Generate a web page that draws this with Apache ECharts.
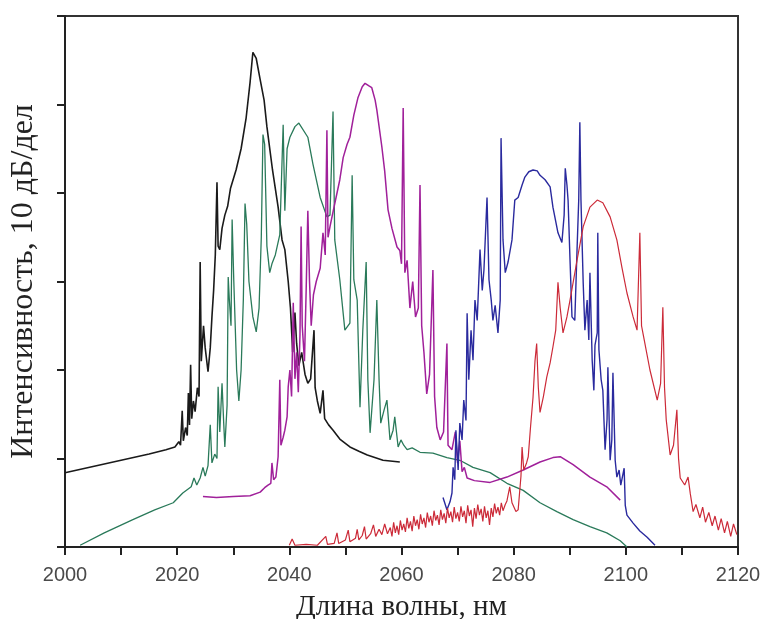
<!DOCTYPE html>
<html>
<head>
<meta charset="utf-8">
<script src="https://cdn.jsdelivr.net/npm/echarts@6/dist/echarts.min.js"></script>
<style>
html,body{margin:0;padding:0;background:#fff;}
#chart{width:762px;height:619px;}
</style>
</head>
<body>
<div id="chart"></div>
<script>
// Wavelength (nm) vs intensity (dB, 10 dB per division)
const xTickLabels = ['2000', '2020', '2040', '2060', '2080', '2100', '2120'];
const xTitle = 'Длина волны, нм';
const yTitle = 'Интенсивность, 10 дБ/дел';

const blackSpectrum = [
  [2000, 8.4], [2005, 9.1], [2010, 9.8], [2015, 10.5], [2018, 11.0], [2019.6, 11.3], [2020.3, 11.9], [2020.6, 11.5],
  [2020.9, 15.4], [2021.1, 12.0], [2021.5, 13.5], [2021.8, 12.6], [2022.0, 17.4], [2022.2, 13.8], [2022.4, 20.6],
  [2022.6, 14.5], [2022.9, 16.5], [2023.2, 15.3], [2023.6, 18.0], [2023.9, 17.0], [2024.1, 32.2], [2024.3, 21.0],
  [2024.7, 25.0], [2025.0, 22.5], [2025.5, 19.8], [2025.9, 22.5], [2026.2, 26.0], [2026.5, 29.0], [2026.8, 33.0],
  [2027.1, 41.2], [2027.3, 34.0], [2027.6, 33.6], [2028.0, 36.0], [2028.5, 37.5], [2029.0, 38.5], [2029.5, 40.5],
  [2030.5, 42.6], [2031.4, 45.0], [2032.3, 48.5], [2033.0, 52.5], [2033.5, 55.9], [2034.1, 55.2], [2034.8, 52.8],
  [2035.5, 50.5], [2036.0, 47.5], [2037.0, 42.6], [2038.0, 38.4], [2038.7, 34.7], [2039.2, 33.6], [2039.8, 30.0],
  [2040.2, 27.0], [2040.6, 22.0], [2041.0, 26.5], [2041.3, 23.0], [2041.7, 20.5], [2042.2, 22.0], [2042.8, 19.5],
  [2043.3, 18.5], [2043.8, 19.0], [2044.4, 24.5], [2044.6, 18.0], [2045.0, 16.5], [2045.5, 15.1], [2046.0, 17.7],
  [2046.3, 14.5], [2047.0, 13.8], [2047.8, 13.2], [2049.0, 12.2], [2050.8, 11.3], [2052.5, 10.8], [2053.9, 10.4],
  [2056.7, 9.8], [2059.7, 9.6]
];

const greenSpectrum = [
  [2002.7, 0.2], [2007, 1.6], [2012.1, 3.1], [2016, 4.2], [2019.3, 5.0], [2021, 6.1], [2022.5, 6.8], [2023, 7.8],
  [2023.5, 7.0], [2024.1, 7.8], [2024.6, 9.0], [2025, 8.0], [2025.5, 9.2], [2025.9, 13.8], [2026.2, 9.5],
  [2026.7, 10.5], [2027.1, 10.0], [2027.3, 18.1], [2027.6, 13.0], [2028.0, 18.5], [2028.3, 14.0], [2028.5, 11.3],
  [2028.9, 16.0], [2029.1, 30.5], [2029.3, 28.0], [2029.6, 25.0], [2029.8, 37.0], [2030.1, 30.0], [2030.6, 20.0],
  [2031.0, 16.5], [2031.4, 20.0], [2031.8, 28.0], [2032.1, 38.8], [2032.4, 36.5], [2032.8, 30.0], [2033.5, 26.0],
  [2034.1, 24.3], [2034.6, 27.0], [2035.0, 35.0], [2035.3, 46.6], [2035.6, 45.5], [2036.0, 34.0], [2036.5, 31.0],
  [2036.9, 32.0], [2037.5, 33.0], [2038.3, 35.3], [2038.9, 47.7], [2039.2, 38.0], [2039.6, 45.0], [2040.1, 46.3],
  [2041.0, 47.5], [2041.7, 47.9], [2043.3, 46.3], [2044.2, 43.3], [2045.5, 39.5], [2046.7, 37.3], [2047.25, 37.5],
  [2047.79, 49.2], [2048.1, 34.7], [2049.0, 30.2], [2049.9, 24.5], [2050.8, 25.3], [2051.2, 42.0], [2051.5, 30.2],
  [2052.1, 27.9], [2052.6, 15.8], [2053.1, 24.5], [2053.7, 32.2], [2054.0, 18.9], [2054.4, 12.9], [2055.1, 18.9],
  [2055.6, 27.9], [2056.0, 18.9], [2056.3, 14.0], [2056.9, 15.5], [2057.4, 16.6], [2057.95, 12.1], [2058.5, 13.2],
  [2058.8, 14.7], [2059.4, 11.3], [2059.9, 12.1], [2060.4, 11.5], [2061.0, 11.0], [2061.9, 11.2], [2063.3, 10.7],
  [2065.6, 10.6], [2068.1, 10.1], [2070.4, 9.8], [2072.75, 9.0], [2075.8, 8.4], [2078.8, 7.2], [2081.7, 6.4],
  [2084.7, 5.0], [2087.7, 4.0], [2090.6, 3.1], [2093.6, 2.3], [2096.6, 1.6], [2099.0, 0.7], [2100.2, 0.0]
];

const purpleSpectrum = [
  [2024.6, 5.7], [2027, 5.6], [2030, 5.7], [2033, 5.8], [2034.8, 6.2], [2035.6, 6.7], [2036.2, 7.0], [2036.7, 7.2],
  [2036.9, 9.5], [2037.2, 7.6], [2037.6, 7.9], [2038.0, 10.2], [2038.3, 18.9], [2038.5, 11.5], [2038.9, 12.4],
  [2039.2, 13.2], [2039.6, 14.7], [2039.8, 18.1], [2040.1, 20.0], [2040.4, 17.0], [2040.7, 27.6], [2041.0, 19.0],
  [2041.3, 22.0], [2041.6, 17.5], [2041.9, 24.0], [2042.1, 36.2], [2042.3, 25.0], [2042.7, 21.0], [2043.0, 29.0],
  [2043.3, 38.0], [2043.6, 30.0], [2043.9, 25.0], [2044.3, 28.5], [2044.8, 30.0], [2045.5, 31.5], [2046.0, 35.5],
  [2046.4, 33.0], [2046.7, 47.1], [2046.9, 35.0], [2047.25, 36.2], [2048.0, 38.5], [2049.0, 41.5], [2049.6, 44.0],
  [2050.3, 45.5], [2050.8, 46.3], [2051.5, 48.8], [2052.25, 50.8], [2053.0, 52.0], [2053.5, 52.4], [2054.2, 52.1],
  [2054.7, 51.9], [2055.3, 50.5], [2055.6, 49.4], [2056.5, 45.2], [2057.0, 42.5], [2057.6, 38.1], [2058.3, 36.0],
  [2059.2, 33.9], [2059.7, 33.5], [2060.0, 32.0], [2060.3, 49.6], [2060.6, 31.0], [2061.0, 32.4], [2061.5, 27.0],
  [2062.0, 30.0], [2062.5, 26.0], [2063.0, 27.0], [2063.3, 40.9], [2063.6, 25.0], [2064.0, 22.0], [2064.5, 17.3],
  [2065.0, 19.5], [2065.6, 31.3], [2065.9, 17.0], [2066.3, 13.5], [2066.9, 12.1], [2067.5, 13.0], [2068.1, 23.0],
  [2068.3, 11.5], [2069.0, 11.0], [2069.6, 13.0], [2070.0, 9.5], [2070.4, 12.0], [2070.8, 8.5], [2071.2, 9.0],
  [2071.7, 7.8], [2073.0, 7.5], [2075.8, 7.3], [2078.8, 7.9], [2081.7, 8.7], [2084.7, 9.6], [2087.0, 10.1],
  [2088.3, 10.2], [2090.6, 9.3], [2093.6, 7.9], [2096.6, 6.8], [2099.0, 5.3]
];

const blueSpectrum = [
  [2067.4, 5.6], [2068.1, 4.2], [2068.65, 5.1], [2069.0, 6.1], [2069.2, 9.0], [2069.5, 7.6], [2069.7, 13.2],
  [2070.1, 8.7], [2070.4, 14.0], [2070.8, 12.1], [2071.1, 16.6], [2071.5, 14.3], [2071.7, 26.4], [2072.0, 18.9],
  [2072.4, 24.5], [2072.75, 21.1], [2073.1, 27.9], [2073.5, 25.6], [2074.0, 33.6], [2074.4, 29.0], [2074.7, 31.3],
  [2075.25, 39.5], [2075.6, 30.2], [2076.0, 27.9], [2076.3, 25.6], [2076.7, 27.3], [2077.2, 24.2], [2077.6, 27.9],
  [2077.75, 46.2], [2078.1, 34.7], [2078.5, 31.0], [2079.0, 32.2], [2079.7, 34.7], [2080.2, 39.2], [2080.8, 39.5],
  [2081.5, 40.9], [2082.0, 41.8], [2082.7, 42.4], [2083.45, 42.6], [2084.2, 42.5], [2084.7, 42.0], [2085.6, 41.5],
  [2086.5, 40.7], [2087.0, 38.4], [2087.9, 35.5], [2088.6, 34.4], [2089.0, 37.5], [2089.2, 42.8], [2089.5, 40.9],
  [2089.7, 39.2], [2090.05, 32.4], [2090.4, 26.0], [2090.9, 25.6], [2091.3, 33.6], [2091.6, 39.2], [2091.8, 48.0],
  [2092.0, 39.2], [2092.4, 29.8], [2092.7, 24.5], [2093.1, 27.9], [2093.4, 23.4], [2093.6, 31.0], [2094.0, 21.1],
  [2094.3, 17.7], [2094.5, 22.8], [2094.9, 24.2], [2095.0, 35.5], [2095.2, 22.3], [2095.6, 18.9], [2095.9, 17.7],
  [2096.3, 11.0], [2096.65, 14.4], [2096.8, 20.3], [2097.2, 9.8], [2097.5, 12.1], [2097.7, 19.7], [2098.1, 9.8],
  [2098.4, 7.9], [2098.8, 8.7], [2099.1, 7.0], [2099.7, 8.9], [2099.9, 4.7], [2100.2, 3.6], [2101.3, 2.7],
  [2102.5, 1.8], [2103.8, 1.1], [2105.2, 0.2]
];

const redSpectrum = [
  [2040.0, 0.2], [2040.5, 0.9], [2041, 0.2], [2043, 0.3], [2045, 0.2], [2046.5, 1.2], [2046.8, 0.3], [2048, 0.4],
  [2048.5, 1.6], [2048.8, 0.4], [2050, 0.8], [2050.5, 1.9], [2050.8, 0.6], [2051.8, 1.0], [2052.1, 2.0],
  [2052.4, 0.8], [2053, 1.3], [2053.4, 2.3], [2053.7, 0.9], [2054.5, 1.5], [2055, 2.5], [2055.4, 1.2], [2056, 2.0],
  [2056.5, 1.4], [2057, 2.6], [2057.5, 1.5], [2058.0, 2.2], [2058.3, 1.2], [2058.6, 2.8], [2058.9, 1.6],
  [2059.2, 2.4], [2059.5, 1.4], [2059.8, 3.0], [2060.1, 1.9], [2060.4, 2.6], [2060.7, 1.7], [2061.0, 3.3],
  [2061.3, 2.1], [2061.6, 2.9], [2061.9, 1.8], [2062.2, 3.5], [2062.5, 2.4], [2062.8, 3.1], [2063.1, 2.0],
  [2063.4, 3.7], [2063.7, 2.6], [2064.0, 3.3], [2064.3, 2.2], [2064.6, 3.9], [2064.9, 2.8], [2065.2, 3.5],
  [2065.5, 2.4], [2065.8, 4.1], [2066.1, 3.0], [2066.4, 3.6], [2066.7, 2.5], [2067.0, 4.2], [2067.3, 3.1],
  [2067.6, 3.8], [2067.9, 2.7], [2068.2, 4.4], [2068.5, 3.3], [2068.8, 4.0], [2069.1, 2.8], [2069.4, 4.5],
  [2069.7, 3.2], [2070.0, 3.9], [2070.3, 2.9], [2070.6, 4.6], [2070.9, 3.4], [2071.2, 4.1], [2071.5, 2.7],
  [2071.8, 4.7], [2072.1, 3.5], [2072.4, 4.2], [2072.7, 2.3], [2073.0, 4.4], [2073.3, 3.2], [2073.6, 4.8],
  [2073.9, 3.6], [2074.2, 4.3], [2074.5, 2.9], [2074.8, 4.6], [2075.1, 3.3], [2075.4, 4.1], [2075.7, 2.5],
  [2076.0, 4.4], [2076.3, 3.4], [2076.6, 4.9], [2076.9, 3.8], [2077.2, 4.5], [2077.5, 3.6], [2077.8, 5.0],
  [2078.1, 4.1], [2078.5, 4.8], [2078.8, 5.2], [2079.3, 6.8], [2079.7, 5.0],
  [2080.4, 4.0], [2080.8, 4.2], [2081.3, 8.0], [2081.5, 11.3], [2081.8, 8.7], [2082.3, 9.5], [2082.6, 10.2],
  [2083.0, 13.5], [2083.45, 16.9], [2083.8, 21.0], [2084.1, 23.0], [2084.4, 18.0], [2084.7, 15.2], [2085.3, 17.0],
  [2085.9, 19.2], [2086.5, 20.8], [2087.0, 22.6], [2087.5, 24.5], [2087.9, 29.9], [2088.3, 27.0], [2088.8, 24.2],
  [2089.5, 26.0], [2090.05, 27.9], [2091.3, 32.4], [2092.4, 36.2], [2093.6, 38.4], [2094.9, 39.2], [2095.9, 38.9],
  [2097.2, 37.3], [2098.4, 34.7], [2099.3, 31.6], [2100.2, 28.7], [2101.3, 26.0], [2102.0, 24.5], [2102.5, 35.5],
  [2102.8, 25.0], [2103.1, 24.0], [2104.3, 20.0], [2105.6, 16.6], [2106.2, 18.5], [2106.6, 27.1], [2106.9, 18.0],
  [2107.2, 14.4], [2107.9, 10.4], [2108.5, 11.5], [2109.1, 15.5], [2109.4, 10.0], [2109.7, 7.8], [2110.5, 7.0],
  [2111.1, 7.9], [2111.5, 6.0], [2112, 4.0], [2112.5, 4.8], [2113.2, 3.3], [2113.7, 4.5], [2114.2, 2.8],
  [2114.8, 3.9], [2115.4, 2.4], [2115.9, 3.5], [2116.5, 1.9], [2117, 3.2], [2117.6, 1.6], [2118.1, 2.9],
  [2118.7, 1.2], [2119.2, 2.6], [2119.8, 1.4]
];

const chart = echarts.init(document.getElementById('chart'), null, {renderer: 'canvas'});

function lineSeries(name, data, color, width) {
  return {
    name: name, type: 'line', data: data, showSymbol: false, symbol: 'none',
    lineStyle: {color: color, width: width}, animation: false, z: 2
  };
}

chart.setOption({
  animation: false,
  backgroundColor: '#ffffff',
  grid: {
    left: 65, right: 24, top: 16, bottom: 72, containLabel: false, outerBoundsMode: 'none',
    show: true, borderColor: '#333', borderWidth: 2
  },
  xAxis: {
    type: 'value', min: 2000, max: 2120, interval: 10,
    name: xTitle, nameLocation: 'middle', nameGap: 46,
    nameTextStyle: {fontFamily: 'Liberation Serif', fontSize: 29, color: '#222'},
    axisLine: {show: true, lineStyle: {color: '#222', width: 2}},
    axisTick: {show: true, inside: false, length: 8, lineStyle: {color: '#222', width: 2}},
    axisLabel: {
      margin: 18, fontFamily: 'Liberation Sans', fontSize: 20, color: '#4a4a4a',
      formatter: function (v) { const s = String(v); return xTickLabels.indexOf(s) >= 0 ? s : ''; }
    },
    splitLine: {show: false}
  },
  yAxis: {
    type: 'value', min: 0, max: 60, interval: 10,
    name: yTitle, nameLocation: 'middle', nameGap: 25, nameRotate: 90,
    nameTextStyle: {fontFamily: 'Liberation Serif', fontSize: 32, color: '#222'},
    axisLine: {show: true, lineStyle: {color: '#222', width: 2}},
    axisTick: {show: true, inside: false, length: 8, lineStyle: {color: '#222', width: 2}},
    axisLabel: {show: false},
    splitLine: {show: false}
  },
  series: [
    lineSeries('black', blackSpectrum, '#1a1a1a', 1.6),
    lineSeries('green', greenSpectrum, '#2a7a5a', 1.3),
    lineSeries('purple', purpleSpectrum, '#a0209a', 1.5),
    lineSeries('blue', blueSpectrum, '#2a2a9e', 1.4),
    lineSeries('red', redSpectrum, '#cc2a38', 1.2)
  ]
});
</script>
</body>
</html>
